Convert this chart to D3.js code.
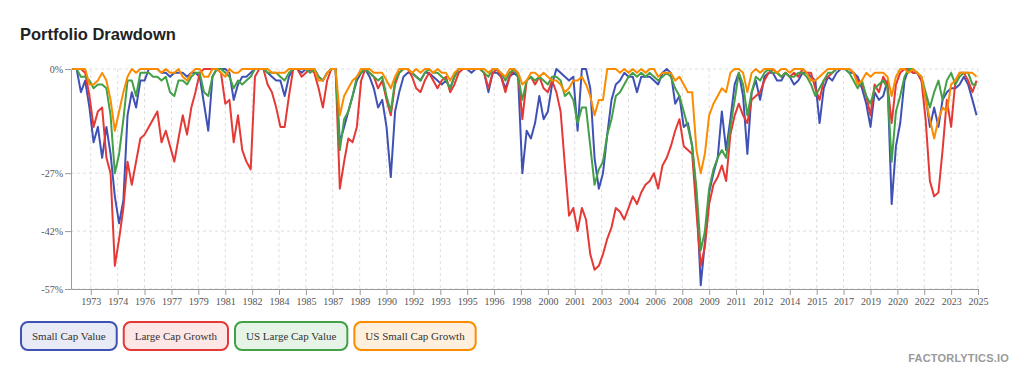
<!DOCTYPE html>
<html>
<head>
<meta charset="utf-8">
<script src="https://cdnjs.cloudflare.com/ajax/libs/d3/7.8.5/d3.min.js"></script>
<style>
    body { margin: 0; background: #fff; }
    .axis path, .axis line { stroke: #9a9a9a; }
    .axis text { font-family: "Liberation Serif", "Times New Roman", serif; font-size: 10px; fill: #555; }
    .grid line { stroke: #dedede; stroke-dasharray: 3,3; }
</style>
</head>
<body>
<div id="chart-area"></div>
<script>

// Drawdown in %, one value per quarter starting 1972-02
var startMonth = "1972-02";

var smallCapValue = [0,
    0, -6, -3, -10, -19, -15, -23, -15, -22, -33,
    -40, -34, -12, -6, -10, -3, -3, 0, 0, 0,
    -1, -1, -2, -1, -1, -1, -2, -1, -1, -2,
    -9, -16, -2, 0, 0, 0, -1, -8, -4, -2,
    -2, -1, 0, 0, 0, -1, -2, -3, -3, -7,
    -2, 0, 0, -1, 0, 0, 0, -2, -3, -1,
    0, 0, -19, -15, -11, -7, -3, -1, 0, -2,
    -5, -10, -8, -15, -28, -11, -6, -2, -1, -1,
    -2, -3, -1, -1, -2, -3, -4, -3, -5, -2,
    0, 0, 0, -1, 0, 0, -1, -6, -1, -1,
    -2, -5, -2, -1, -2,
    -27, -16, -18, -14, -7, -13, -11, -4, 0, -1,
    -2, -3, -2, -16, 0, 0, -5, -23, -31, -27,
    -17, -8, -4, -3, -1, -2, -2, -6, -2, -2,
    -2, -3, -4, -1, 0, -1, -9, -7, -15, -14,
    -20, -33, -56, -45, -32, -27, -23, -11, -21, -13,
    -4, -1, -7, -22, -6, -3, -8, -2, -1, -1,
    -3, -3, -1, -2, -4, -3, -1, -1, -2, -3,
    -14, -5, -2, -3, -1, 0, 0, -1, -1, -2,
    -5, -9, -15, -6, -8, -7, -3, -35, -20, -14,
    -3, 0, -1, -1, -3, -7, -15, -10, -15, -8,
    -6, -5, -5, -4, -2, -4, -8, -12];

var largeCapGrowth = [0,
    0, 0, -1, -7, -15, -11, -10, -23, -27, -51,
    -44, -36, -24, -30, -24, -18, -17, -15, -13, -11,
    -19, -16, -20, -24, -18, -12, -17, -10, -6, -1,
    0, 0, 0, 0, -1, -9, -8, -19, -12, -21,
    -24, -26, -2, 0, 0, -4, -6, -10, -15, -15,
    -7, 0, 0, -2, -1, 0, -1, -5, -10, -3,
    0, 0, -31, -24, -18, -19, -15, -3, 0, -1,
    -2, -5, -3, -8, -12, -4, -1, 0, 0, -2,
    -5, -6, -3, -1, -3, -5, -3, -2, -6, -4,
    -1, 0, 0, 0, 0, 0, -1, -5, -1, 0,
    -2, -6, -2, 0, -1,
    -13, -3, -2, -4, -2, -5, -6, -3, -6, -11,
    -25, -38, -36, -42, -36, -39, -48, -52, -51, -48,
    -44, -41, -36, -37, -39, -36, -33, -35, -32, -30,
    -29, -27, -31, -25, -23, -20, -16, -13, -20, -21,
    -22, -37, -51, -46, -35, -30, -28, -25, -29, -17,
    -12, -9, -12, -14, -8, -7, -6, -3, -1, 0,
    -1, -2, -1, -2, -1, -2, 0, -1, -1, -5,
    -8, -3, -2, -1, 0, 0, 0, 0, -1, -3,
    -4, -7, -12, -4, -6, -2, -4, -14, -4, -1,
    0, 0, -1, -1, -3, -13, -29, -33, -32, -21,
    -8, -15, -3, -1, -1, -3, -6, -3];

var usLargeCapValue = [0,
    0, -2, -2, -3, -5, -4, -4, -5, -12, -27,
    -22, -13, -3, -3, -7, -1, -1, -1, -2, -2,
    -3, -2, -6, -7, -3, -3, -4, -2, -1, -1,
    -6, -7, -2, 0, 0, -1, -2, -5, -3, -4,
    -3, -2, 0, 0, 0, -1, -1, -1, -2, -3,
    -1, 0, 0, 0, 0, -1, 0, -2, -3, -1,
    0, 0, -21, -13, -11, -7, -2, -1, 0, -1,
    -2, -3, -2, -7, -11, -3, -1, 0, 0, -1,
    -2, -3, -1, 0, -1, -1, -2, -3, -5, -2,
    0, 0, 0, 0, 0, 0, -1, -2, 0, 0,
    -1, -3, -1, 0, -2,
    -8, -3, -2, -3, -2, -3, -4, -2, -2, -3,
    -7, -6, -8, -14, -10, -10, -20, -30, -26, -24,
    -17, -13, -7, -6, -4, -2, -1, -2, -1, -2,
    -1, -2, -3, -2, -1, -2, -5, -7, -11, -15,
    -20, -31, -47, -42, -31, -26, -23, -21, -23, -15,
    -8, -1, -4, -12, -6, -2, -3, -1, 0, -1,
    -1, -2, -1, -2, -2, -1, -1, -2, -4, -7,
    -5, -3, -1, -1, 0, 0, 0, -1, -3, -5,
    -3, -7, -9, -5, -4, -3, -5, -24, -11, -7,
    -2, 0, 0, -1, -2, -6, -10, -6, -3, -8,
    -3, -1, -4, -2, -1, -1, -4, -4];

var usSmallCapGrowth = [0,
    0, 0, 0, -4, -4, -3, -1, -3, -8, -16,
    -11, -6, -2, 0, -1, 0, 0, 0, 0, 0,
    -1, 0, -1, -1, 0, -2, -3, -1, 0, 0,
    -2, -2, 0, 0, -1, -2, 0, -1, -1, 0,
    0, 0, 0, 0, 0, 0, -1, -1, -1, -1,
    0, 0, 0, 0, 0, 0, 0, -3, -3, -1,
    0, 0, -12, -7, -5, -3, -2, 0, 0, 0,
    -1, -1, -1, -3, -5, -2, 0, 0, 0, -1,
    0, -1, 0, 0, -1, 0, -1, -1, -3, -1,
    0, 0, 0, 0, 0, 0, 0, -1, 0, 0,
    -1, -2, 0, 0, -1,
    -4, -3, -1, -1, -2, -1, -2, -3, -3, -4,
    -6, -5, -3, -3, -2, -4, -7, -12, -8, -8,
    0, 0, 0, -1, 0, -1, 0, -1, 0, -1,
    0, 0, -2, -1, -1, -1, -3, -2, -4, -6,
    -6, -21, -27, -22, -12, -9, -7, -5, -6, -1,
    0, 0, -1, -6, -1, 0, -1, 0, 0, 0,
    -1, 0, 0, -1, 0, 0, 0, -1, -3, -3,
    -2, -1, 0, 0, 0, 0, 0, 0, -1, -4,
    -3, -1, -2, -1, -1, -1, -2, -7, -2, 0,
    0, -1, 0, -1, -2, -8, -13, -18, -13, -10,
    -11, -4, -3, -1, -1, -1, -1, -2];

var seriesNames = ["Small Cap Value", "Large Cap Growth", "US Large Cap Value", "US Small Cap Growth"];
var seriesValues = [smallCapValue, largeCapGrowth, usLargeCapValue, usSmallCapGrowth];
var seriesColors = ["#3f51b5", "#e53935", "#43a047", "#fb8c00"];
var seriesFills = ["#e8eaf6", "#fde6e6", "#e6f3e7", "#fff0dd"];

var yTicks = [0, -27, -42, -57];
var xTickMonths = ["1973-03", "1974-10", "1976-05", "1977-12", "1979-07", "1981-02", "1982-09",
    "1984-04", "1985-11", "1987-06", "1989-01", "1990-08", "1992-03", "1993-10", "1995-05",
    "1996-12", "1998-07", "2000-02", "2001-09", "2003-04", "2004-11", "2006-06", "2008-01",
    "2009-08", "2011-03", "2012-10", "2014-05", "2015-12", "2017-07", "2019-02", "2020-09",
    "2022-04", "2023-11", "2025-06"];
var xDomain = ["1972-01", "2025-06"];

var parseMonth = d3.timeParse("%Y-%m");

var margin = { left: 71, right: 46, top: 69, bottom: 87 };
var width = 1024 - margin.left - margin.right,
    height = 376 - margin.top - margin.bottom;

var svg = d3.select("#chart-area")
    .append("svg")
        .attr("width", 1024)
        .attr("height", 376);

// Title
svg.append("text")
    .attr("x", 20)
    .attr("y", 40)
    .attr("font-family", "'Liberation Sans', Arial, sans-serif")
    .attr("font-weight", "bold")
    .attr("font-size", "16.5px")
    .attr("fill", "#222")
    .text("Portfolio Drawdown");

var g = svg.append("g")
    .attr("transform", "translate(" + margin.left + ", " + margin.top + ")");

var x = d3.scaleTime()
    .domain(xDomain.map(parseMonth))
    .range([0, width]);

var y = d3.scaleLinear()
    .domain([-57, 0])
    .range([height, 0]);

var xTicks = xTickMonths.map(parseMonth);

// Grid
g.append("g")
    .attr("class", "grid")
    .selectAll("line.h")
    .data(yTicks)
    .enter().append("line")
        .attr("x1", 0)
        .attr("x2", width)
        .attr("y1", function(d){ return y(d); })
        .attr("y2", function(d){ return y(d); });

g.append("g")
    .attr("class", "grid")
    .selectAll("line.v")
    .data(xTicks)
    .enter().append("line")
        .attr("x1", function(d){ return x(d); })
        .attr("x2", function(d){ return x(d); })
        .attr("y1", 0)
        .attr("y2", height);

// Axes
var xAxisCall = d3.axisBottom(x)
    .tickValues(xTicks)
    .tickFormat(d3.timeFormat("%Y"))
    .tickSizeOuter(0);

var yAxisCall = d3.axisLeft(y)
    .tickValues(yTicks)
    .tickFormat(function(d){ return d + "%"; })
    .tickSizeOuter(0)
    .tickPadding(2);

g.append("g")
    .attr("class", "x axis")
    .attr("transform", "translate(0," + height + ")")
    .call(xAxisCall);

g.append("g")
    .attr("class", "y axis")
    .call(yAxisCall);

// Lines
var start = parseMonth(startMonth);
var line = d3.line()
    .x(function(d, i){ return x(d3.timeMonth.offset(start, i * 3)); })
    .y(function(d){ return y(d); });

seriesValues.forEach(function(values, i){
    g.append("path")
        .datum(values)
        .attr("fill", "none")
        .attr("stroke", seriesColors[i])
        .attr("stroke-width", 2)
        .attr("stroke-linejoin", "round")
        .attr("d", line);
});

// Legend
var legend = svg.append("g").attr("transform", "translate(21, 322)");
var lx = 0;
seriesNames.forEach(function(name, i){
    var item = legend.append("g").attr("transform", "translate(" + lx + ",0)");
    var rect = item.append("rect")
        .attr("height", 28)
        .attr("rx", 7)
        .attr("fill", seriesFills[i])
        .attr("stroke", seriesColors[i])
        .attr("stroke-width", 2);
    var label = item.append("text")
        .attr("x", 11)
        .attr("y", 14)
        .attr("dy", "0.35em")
        .attr("font-family", "'Liberation Serif', 'Times New Roman', serif")
        .attr("font-size", "11px")
        .attr("fill", "#333")
        .text(name);
    var w = label.node().getComputedTextLength() + 22;
    rect.attr("width", w);
    lx += w + 7;
});

// Watermark
svg.append("text")
    .attr("x", 1009)
    .attr("y", 362)
    .attr("text-anchor", "end")
    .attr("font-family", "'Liberation Sans', Arial, sans-serif")
    .attr("font-weight", "bold")
    .attr("font-size", "11px")
    .attr("letter-spacing", "0.2px")
    .attr("fill", "#9a9a9a")
    .text("FACTORLYTICS.IO");

</script>
</body>
</html>
